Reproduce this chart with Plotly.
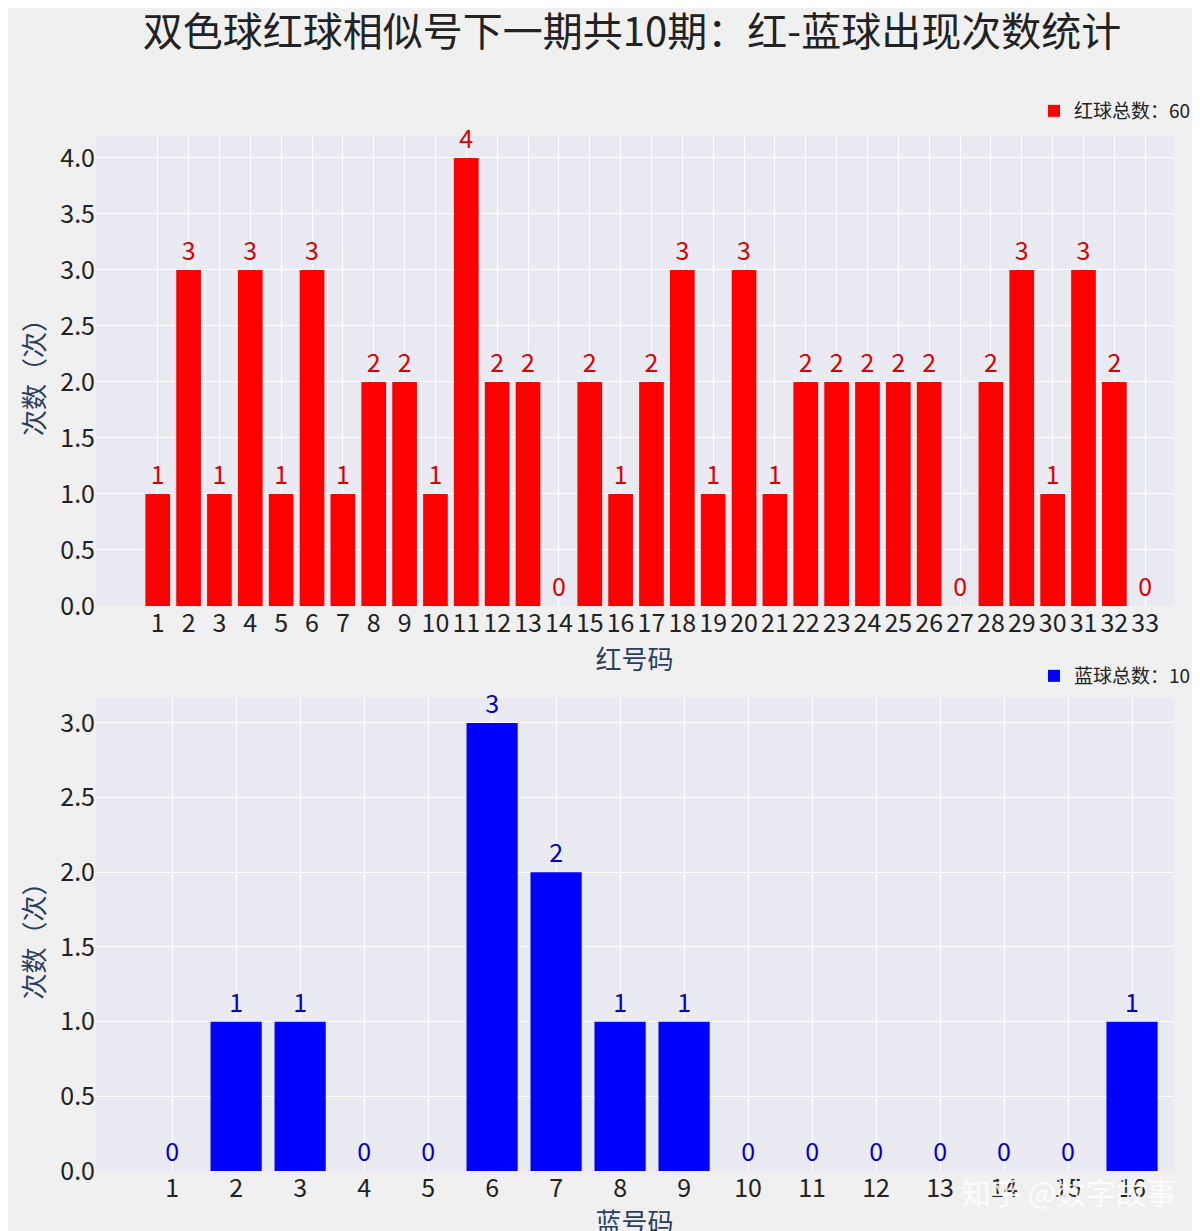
import plotly.graph_objects as go

red_numbers = [str(i) for i in range(1, 34)]
red_counts = [1, 3, 1, 3, 1, 3, 1, 2, 2, 1, 4, 2, 2, 0, 2, 1, 2, 3, 1, 3, 1,
              2, 2, 2, 2, 2, 0, 2, 3, 1, 3, 2, 0]
blue_numbers = [str(i) for i in range(1, 17)]
blue_counts = [0, 1, 1, 0, 0, 3, 2, 1, 1, 0, 0, 0, 0, 0, 0, 1]

FONT = "Noto Sans CJK SC"
H = 1231.0

fig = go.Figure()
fig.add_trace(go.Bar(
    x=list(range(1, 34)), y=red_counts, name="红球总数：%d" % sum(red_counts),
    marker=dict(color="#FF0000", line=dict(width=0)), width=0.8,
    text=red_counts, textposition="outside", cliponaxis=False,
    textfont=dict(color="#E00000", size=25), xaxis="x", yaxis="y", legend="legend"))
fig.add_trace(go.Bar(
    x=list(range(1, 17)), y=blue_counts, name="蓝球总数：%d" % sum(blue_counts),
    marker=dict(color="#0000FF", line=dict(width=0)), width=0.8,
    text=blue_counts, textposition="outside", cliponaxis=False,
    textfont=dict(color="#0000CC", size=25), xaxis="x2", yaxis="y2", legend="legend2"))

axis_common = dict(showgrid=True, gridcolor="white", gridwidth=1.3, zeroline=False,
                   tickfont=dict(size=25, color="#222"), ticks="", automargin=False)
fig.update_layout(
    width=1200, height=1231, paper_bgcolor="#F0F0F0", plot_bgcolor="#EAEAF2",
    font=dict(family=FONT), margin=dict(l=0, r=0, t=0, b=0), bargap=0.2,
    showlegend=True,
    title=dict(text="双色球红球相似号下一期共10期：红-蓝球出现次数统计",
               x=0.52, xanchor="center", y=1 - 24 / H, yanchor="middle",
               font=dict(size=40, color="#222")),
    xaxis=dict(domain=[88 / 1200, 1165 / 1200], range=[-1.0, 33.9],
               tickvals=list(range(1, 34)), ticktext=red_numbers,
               title=dict(text="红号码", font=dict(size=26), standoff=2), anchor="y", **axis_common),
    yaxis=dict(domain=[(H - 598) / H, (H - 128) / H], range=[0, 4.196],
               tickvals=[0, 0.5, 1, 1.5, 2, 2.5, 3, 3.5, 4], tickformat=".1f",
               title=dict(text="次数（次）", font=dict(size=26), standoff=8), anchor="x", **axis_common),
    xaxis2=dict(domain=[88 / 1200, 1165 / 1200], range=[-0.19, 16.64],
                tickvals=list(range(1, 17)), ticktext=blue_numbers,
                title=dict(text="蓝号码", font=dict(size=26), standoff=2), anchor="y2", **axis_common),
    yaxis2=dict(domain=[(H - 1163) / H, (H - 690) / H], range=[0, 3.167],
                tickvals=[0, 0.5, 1, 1.5, 2, 2.5, 3], tickformat=".1f",
                title=dict(text="次数（次）", font=dict(size=26), standoff=8), anchor="x2", **axis_common),
    legend=dict(x=0.99, y=1 - 103 / H, xanchor="right", yanchor="middle",
                bgcolor="rgba(0,0,0,0)", font=dict(size=19, color="#222")),
    legend2=dict(x=0.99, y=1 - 668 / H, xanchor="right", yanchor="middle",
                 bgcolor="rgba(0,0,0,0)", font=dict(size=19, color="#222")),
)
fig.add_annotation(text="知乎 @数字故事", x=0.975, y=1 - 1183 / H, xref="paper", yref="paper",
                   xanchor="right", yanchor="middle", showarrow=False,
                   font=dict(size=30, color="rgba(255,255,255,0.85)"))
fig.write_html("out.html")
